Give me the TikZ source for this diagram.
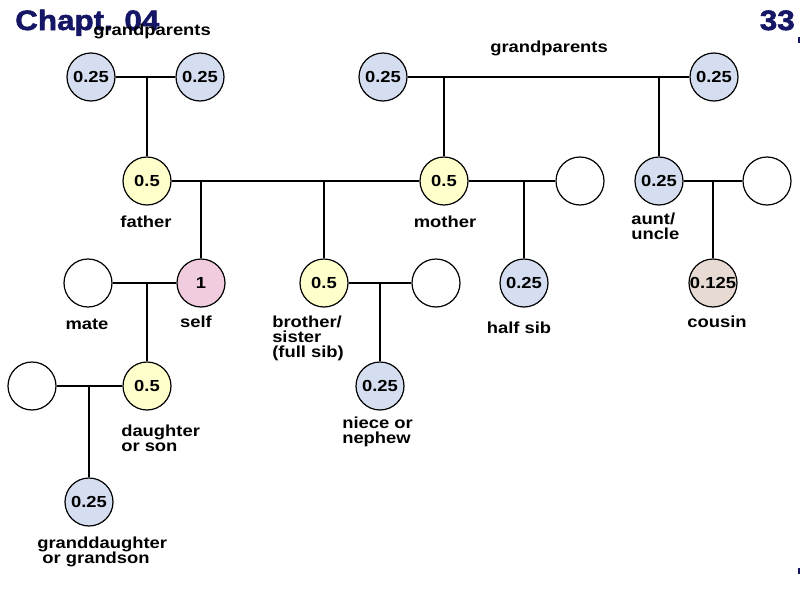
\documentclass[tikz,border=0pt]{standalone}
\usepackage{fontspec}
\setmainfont{Liberation Sans}[FakeStretch=1.15]
\newfontfamily\headfont{Liberation Sans Bold}[FakeStretch=1.12,FakeBold=2]
\definecolor{chaptblue}{RGB}{22,22,102}
\definecolor{quarter}{RGB}{212,222,240}
\definecolor{half}{RGB}{255,255,204}
\definecolor{selfpink}{RGB}{240,204,222}
\definecolor{eighth}{RGB}{230,218,210}
\tikzset{
  person/.style={circle,draw=black,line width=0.9pt,minimum size=36pt,inner sep=0pt,
    font=\bfseries\fontsize{12}{12}\selectfont},
  lbl/.style={inner sep=0pt,font=\bfseries\fontsize{12}{11.25}\selectfont,align=left},
  heading/.style={inner sep=0pt,text=chaptblue,font=\headfont\fontsize{21}{21}\selectfont},
  link/.style={line width=1pt}
}

\begin{document}
\begin{tikzpicture}[x=0.75pt,y=-0.75pt]
  \useasboundingbox (0,0) rectangle (801,600);
  % heading
  \node[heading,anchor=base west] (chapt) at (15,30) {Chapt. 04};
  \node[heading,anchor=base east] (page) at (795,30) {33};
  \draw[chaptblue,line width=1pt] (799,37) -- (799,43);
  \draw[chaptblue,line width=1pt] (799,568) -- (799,574);

  % grandparents
  \node[person,fill=quarter] (gpa) at (91,77) {0.25};
  \node[person,fill=quarter] (gpb) at (200,77) {0.25};
  \node[person,fill=quarter] (gpc) at (383,77) {0.25};
  \node[person,fill=quarter] (gpd) at (714,77) {0.25};
  \node[lbl,anchor=base west] (lgpl) at (93,35) {grandparents};
  \node[lbl,anchor=base west] (lgpr) at (490,52) {grandparents};

  % parents' generation
  \node[person,fill=half] (father) at (147,181) {0.5};
  \node[person,fill=half] (mother) at (444,181) {0.5};
  \node[person,fill=white] (exmate) at (580,181) {};
  \node[person,fill=quarter] (aunt) at (659,181) {0.25};
  \node[person,fill=white] (auntmate) at (767,181) {};
  \node[lbl,anchor=base] (lfather) at (146,227) {father};
  \node[lbl,anchor=base] (lmother) at (445,227) {mother};
  \node[lbl,anchor=north west] (launt) at (631,212.5) {aunt/\\uncle};

  % own generation
  \node[person,fill=white] (mate) at (88,283) {};
  \node[person,fill=selfpink] (self) at (201,283) {1};
  \node[person,fill=half] (sib) at (324,283) {0.5};
  \node[person,fill=white] (sibmate) at (436,283) {};
  \node[person,fill=quarter] (halfsib) at (524,283) {0.25};
  \node[person,fill=eighth] (cousin) at (713,283) {0.125};
  \node[lbl,anchor=base] (lmate) at (87,329) {mate};
  \node[lbl,anchor=base] (lself) at (196,327) {self};
  \node[lbl,anchor=north west] (lsib) at (272,315.5) {brother/\\sister\\(full sib)};
  \node[lbl,anchor=base] (lhalfsib) at (519,333) {half sib};
  \node[lbl,anchor=base] (lcousin) at (717,327) {cousin};

  % children
  \node[person,fill=white] (childmate) at (32,386) {};
  \node[person,fill=half] (child) at (147,386) {0.5};
  \node[person,fill=quarter] (niece) at (380,386) {0.25};
  \node[lbl,anchor=north west] (lchild) at (121,424.5) {daughter\\or son};
  \node[lbl,anchor=north west] (lniece) at (342,416.5) {niece or\\nephew};

  % grandchildren
  \node[person,fill=quarter] (grandchild) at (89,502) {0.25};
  \node[lbl,anchor=north west] (lgrand) at (37,536.5) {granddaughter\\\ or grandson};

  % junctions
  \coordinate (jpat) at (147,77);
  \coordinate (jmat) at (444,77);
  \coordinate (jaunt) at (659,77);
  \coordinate (jself) at (201,181);
  \coordinate (jsib) at (324,181);
  \coordinate (jhalf) at (524,181);
  \coordinate (jcous) at (713,181);
  \coordinate (jchild) at (147,283);
  \coordinate (jniece) at (380,283);
  \coordinate (jgrand) at (89,386);

  % lines
  \draw[link] (gpa) -- (gpb);
  \draw[link] (jpat) -- (father);
  \draw[link] (gpc) -- (gpd);
  \draw[link] (jmat) -- (mother);
  \draw[link] (jaunt) -- (aunt);
  \draw[link] (father) -- (mother);
  \draw[link] (jself) -- (self);
  \draw[link] (jsib) -- (sib);
  \draw[link] (mother) -- (exmate);
  \draw[link] (jhalf) -- (halfsib);
  \draw[link] (aunt) -- (auntmate);
  \draw[link] (jcous) -- (cousin);
  \draw[link] (mate) -- (self);
  \draw[link] (jchild) -- (child);
  \draw[link] (sib) -- (sibmate);
  \draw[link] (jniece) -- (niece);
  \draw[link] (childmate) -- (child);
  \draw[link] (jgrand) -- (grandchild);
\end{tikzpicture}
\end{document}
